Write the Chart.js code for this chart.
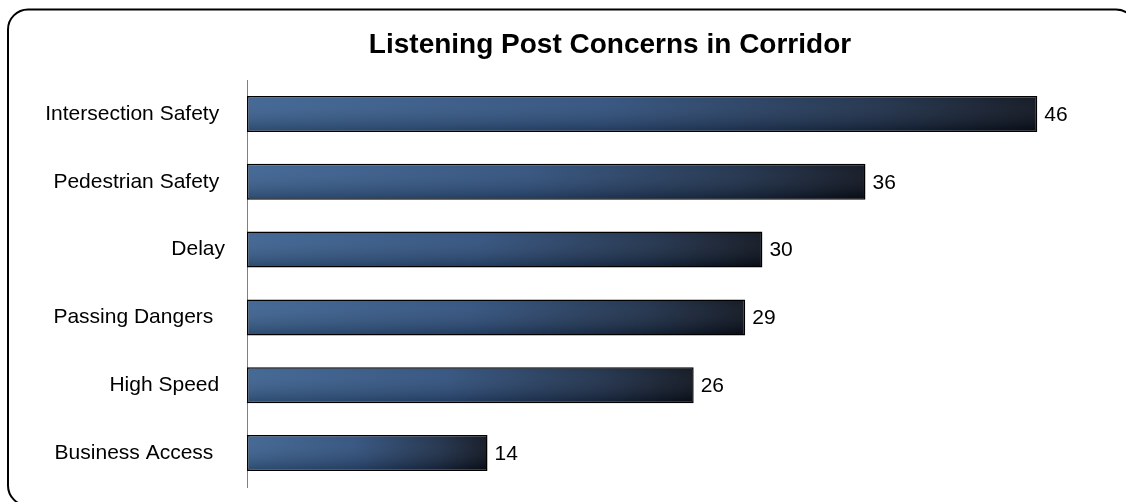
<!DOCTYPE html>
<html>
<head>
<meta charset="utf-8">
<script src="https://cdn.jsdelivr.net/npm/chart.js@4.4.1/dist/chart.umd.min.js"></script>
<style>
  html, body { margin: 0; padding: 0; background: #fff; }
  #wrap { width: 1126px; height: 502px; position: relative; }
</style>
</head>
<body>
<div id="wrap"><canvas id="c" width="1126" height="502"></canvas></div>
<script>
const titleText = "Listening Post Concerns in Corridor";
const categories = ["Intersection Safety", "Pedestrian Safety", "Delay", "Passing Dangers", "High Speed", "Business Access"];
const values = [46, 36, 30, 29, 26, 14];
const labelPad = [1, 1, 0, 2, 1, 2];
const FONT = "'Liberation Sans', Arial, sans-serif";

const framePlugin = {
  id: 'frame',
  beforeDraw(chart) {
    const c = chart.ctx;
    c.save();
    c.fillStyle = '#fff';
    c.fillRect(0, 0, chart.width, chart.height);
    c.beginPath();
    c.lineWidth = 2;
    c.strokeStyle = '#000';
    c.roundRect(8, 9.5, 1128, 496, 20);
    c.stroke();
    c.font = 'bold 28px ' + FONT;
    c.fillStyle = '#000';
    c.textAlign = 'center';
    c.textBaseline = 'middle';
    c.fillText(titleText, 610, 45);
    c.restore();
  }
};

const shadePlugin = {
  id: 'shade',
  afterDatasetsDraw(chart) {
    const c = chart.ctx;
    const meta = chart.getDatasetMeta(0);
    c.save();
    meta.data.forEach((el, i) => {
      const p = el.getProps(['x', 'y', 'base', 'height'], true);
      const top = p.y - p.height / 2 + 1.5, bot = p.y + p.height / 2 - 1.5;
      const g = c.createLinearGradient(0, top, 0, bot);
      g.addColorStop(0, 'rgba(255,255,255,0.05)');
      g.addColorStop(1, 'rgba(0,0,0,0.22)');
      c.fillStyle = g;
      c.fillRect(p.base + 1.5, top, p.x - p.base - 3, bot - top);
      c.font = '21px ' + FONT;
      c.fillStyle = '#000';
      c.textAlign = 'left';
      c.textBaseline = 'middle';
      c.fillText(String(values[i]), p.x + 7, p.y + 1);
    });
    c.restore();
  }
};

new Chart(document.getElementById('c'), {
  type: 'bar',
  data: {
    labels: categories,
    datasets: [{
      data: values,
      backgroundColor(ctx) {
        const chart = ctx.chart;
        if (!chart.chartArea || !chart.scales.x) return '#2c4a75';
        const x0 = chart.scales.x.getPixelForValue(0);
        const x1 = chart.scales.x.getPixelForValue(values[ctx.dataIndex]);
        const g = chart.ctx.createLinearGradient(x0, 0, x1, 0);
        g.addColorStop(0, '#3a6191');
        g.addColorStop(0.45, '#2d4e7c');
        g.addColorStop(0.8, '#1a2c47');
        g.addColorStop(1, '#0a101c');
        return g;
      },
      borderColor: '#000',
      borderWidth: 1.5,
      borderSkipped: false,
      barPercentage: 0.53,
      categoryPercentage: 1
    }]
  },
  options: {
    indexAxis: 'y',
    responsive: false,
    animation: false,
    layout: { padding: { left: 0, top: 80, right: 20, bottom: 15 } },
    plugins: {
      legend: { display: false },
      title: { display: false },
      tooltip: { enabled: false }
    },
    scales: {
      x: { display: false, min: 0, max: 50 },
      y: {
        afterFit(scale) { scale.width = 247; scale.paddingTop = 0; scale.paddingBottom = 0; },
        grid: { display: false, drawTicks: false },
        border: { display: true, color: '#808080', width: 1 },
        ticks: {
          padding: 22,
          color: '#000',
          font: { size: 21, family: FONT },
          callback(v, i) { return categories[i] + ' '.repeat(labelPad[i]); }
        }
      }
    }
  },
  plugins: [framePlugin, shadePlugin]
});
</script>
</body>
</html>
